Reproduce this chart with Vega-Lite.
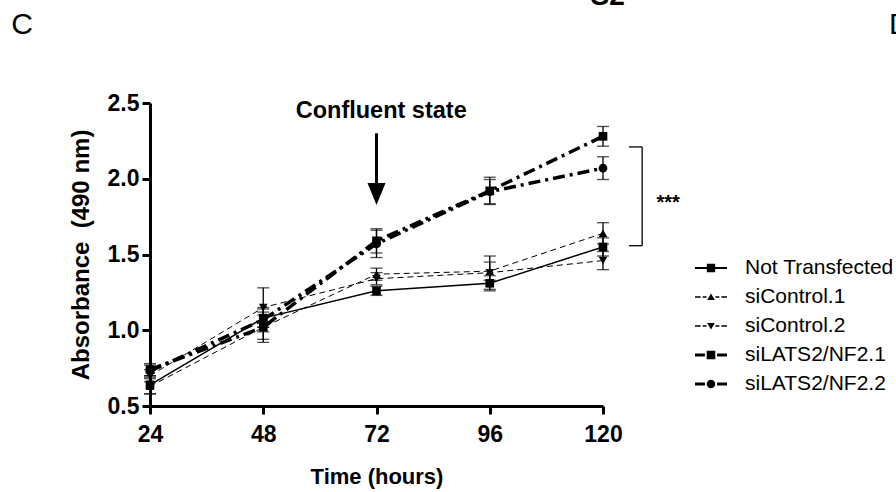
{
  "$schema": "https://vega.github.io/schema/vega-lite/v6.json",
  "autosize": "none",
  "width": 453,
  "height": 303,
  "padding": {"left": 150, "top": 103, "right": 293, "bottom": 86},
  "background": "white",
  "config": {
    "view": {"stroke": null},
    "axis": {"grid": false},
    "font": "Liberation Sans"
  },
  "data": {
    "values": [
      {"t": 24, "series": "Not Transfected", "v": 0.64, "err": 0.06},
      {"t": 48, "series": "Not Transfected", "v": 1.08, "err": 0.06},
      {"t": 72, "series": "Not Transfected", "v": 1.26, "err": 0.03},
      {"t": 96, "series": "Not Transfected", "v": 1.31, "err": 0.05},
      {"t": 120, "series": "Not Transfected", "v": 1.55, "err": 0.06},
      {"t": 24, "series": "siControl.1", "v": 0.63, "err": 0.05},
      {"t": 48, "series": "siControl.1", "v": 1.02, "err": 0.10},
      {"t": 72, "series": "siControl.1", "v": 1.37, "err": 0.04},
      {"t": 96, "series": "siControl.1", "v": 1.39, "err": 0.06},
      {"t": 120, "series": "siControl.1", "v": 1.64, "err": 0.07},
      {"t": 24, "series": "siControl.2", "v": 0.70, "err": 0.04},
      {"t": 48, "series": "siControl.2", "v": 1.15, "err": 0.13},
      {"t": 72, "series": "siControl.2", "v": 1.34, "err": 0.04},
      {"t": 96, "series": "siControl.2", "v": 1.38, "err": 0.11},
      {"t": 120, "series": "siControl.2", "v": 1.46, "err": 0.06},
      {"t": 24, "series": "siLATS2/NF2.1", "v": 0.74, "err": 0.04},
      {"t": 48, "series": "siLATS2/NF2.1", "v": 1.02, "err": 0.08},
      {"t": 72, "series": "siLATS2/NF2.1", "v": 1.59, "err": 0.08},
      {"t": 96, "series": "siLATS2/NF2.1", "v": 1.92, "err": 0.09},
      {"t": 120, "series": "siLATS2/NF2.1", "v": 2.28, "err": 0.065},
      {"t": 24, "series": "siLATS2/NF2.2", "v": 0.73, "err": 0.04},
      {"t": 48, "series": "siLATS2/NF2.2", "v": 1.07, "err": 0.08},
      {"t": 72, "series": "siLATS2/NF2.2", "v": 1.57, "err": 0.09},
      {"t": 96, "series": "siLATS2/NF2.2", "v": 1.915, "err": 0.08},
      {"t": 120, "series": "siLATS2/NF2.2", "v": 2.07, "err": 0.075}
    ]
  },
  "resolve": {"scale": {"shape": "independent"}},
  "layer": [
    {
      "transform": [{"filter": "datum.series === 'Not Transfected'"}],
      "mark": {"type": "line", "color": "black", "strokeWidth": 1.5},
      "encoding": {
        "x": {
          "field": "t", "type": "quantitative", "title": "Time (hours)",
          "scale": {"domain": [24, 120], "nice": false, "zero": false},
          "axis": {
            "title": "Time (hours)", "values": [24, 48, 72, 96, 120], "format": "d",
            "labelFont": "Liberation Sans", "labelFontWeight": "bold", "labelFontSize": 23, "labelColor": "black",
            "titleFont": "Liberation Sans", "titleFontWeight": "bold", "titleFontSize": 22, "titleColor": "black",
            "titlePadding": 20, "labelPadding": 9,
            "domainColor": "black", "domainWidth": 3, "tickColor": "black", "tickWidth": 3, "tickSize": 8,
            "labelFlush": false, "labelOverlap": false
          }
        },
        "y": {
          "field": "v", "type": "quantitative", "title": "Absorbance\u00a0 (490 nm)",
          "scale": {"domain": [0.5, 2.5], "nice": false, "zero": false},
          "axis": {
            "title": "Absorbance\u00a0 (490 nm)", "values": [0.5, 1, 1.5, 2, 2.5], "format": ".1f",
            "labelFont": "Liberation Sans", "labelFontWeight": "bold", "labelFontSize": 23, "labelColor": "black",
            "titleFont": "Liberation Sans", "titleFontWeight": "bold", "titleFontSize": 24, "titleColor": "black",
            "titlePadding": 14, "labelPadding": 3,
            "domainColor": "black", "domainWidth": 3, "tickColor": "black", "tickWidth": 3, "tickSize": 8,
            "labelFlush": false, "labelOverlap": false
          }
        }
      }
    },
    {
      "transform": [{"filter": "indexof(datum.series, 'siControl') === 0"}],
      "mark": {"type": "line", "color": "black", "strokeWidth": 1, "strokeDash": [6, 4]},
      "encoding": {
        "x": {"field": "t", "type": "quantitative", "title": "Time (hours)"},
        "y": {"field": "v", "type": "quantitative", "title": "Absorbance\u00a0 (490 nm)"},
        "detail": {"field": "series"}
      }
    },
    {
      "transform": [{"filter": "indexof(datum.series, 'siLATS') === 0"}],
      "mark": {"type": "line", "color": "black", "strokeWidth": 3.5, "strokeDash": [12, 5, 3, 5]},
      "encoding": {
        "x": {"field": "t", "type": "quantitative", "title": "Time (hours)"},
        "y": {"field": "v", "type": "quantitative", "title": "Absorbance\u00a0 (490 nm)"},
        "detail": {"field": "series"}
      }
    },
    {
      "mark": {"type": "errorbar", "ticks": {"size": 12, "color": "black", "thickness": 1.3}, "rule": {"color": "black", "strokeWidth": 1.3}},
      "encoding": {
        "x": {"field": "t", "type": "quantitative", "title": "Time (hours)"},
        "y": {"field": "v", "type": "quantitative", "title": "Absorbance\u00a0 (490 nm)"},
        "yError": {"field": "err"}
      }
    },
    {
      "mark": {"type": "point", "filled": true, "color": "black", "opacity": 1, "size": 75},
      "encoding": {
        "x": {"field": "t", "type": "quantitative", "title": "Time (hours)"},
        "y": {"field": "v", "type": "quantitative", "title": "Absorbance\u00a0 (490 nm)"},
        "shape": {
          "field": "series", "type": "nominal", "legend": null,
          "scale": {
            "domain": ["Not Transfected", "siControl.1", "siControl.2", "siLATS2/NF2.1", "siLATS2/NF2.2"],
            "range": ["square", "triangle-up", "triangle-down", "square", "circle"]
          }
        }
      }
    },
    {
      "transform": [{"filter": "false"}],
      "mark": {"type": "point", "filled": true, "color": "black", "opacity": 1, "size": 1024},
      "encoding": {
        "x": {"field": "t", "type": "quantitative", "title": "Time (hours)"},
        "y": {"field": "v", "type": "quantitative", "title": "Absorbance\u00a0 (490 nm)"},
        "shape": {
          "field": "series", "type": "nominal",
          "scale": {
            "domain": ["Not Transfected", "siControl.1", "siControl.2", "siLATS2/NF2.1", "siLATS2/NF2.2"],
            "range": [
              "M-1,-0.065H1V0.065H-1Z M-0.26,-0.26H0.26V0.26H-0.26Z",
              "M-1,-0.04H-0.65V0.04H-1Z M-0.52,-0.04H-0.28V0.04H-0.52Z M0,-0.22L0.24,0.18H-0.24Z M0.28,-0.04H0.52V0.04H0.28Z M0.65,-0.04H1V0.04H0.65Z",
              "M-1,-0.04H-0.65V0.04H-1Z M-0.52,-0.04H-0.28V0.04H-0.52Z M0,0.22L0.24,-0.18H-0.24Z M0.28,-0.04H0.52V0.04H0.28Z M0.65,-0.04H1V0.04H0.65Z",
              "M-1,-0.095H-0.38V0.095H-1Z M-0.27,-0.27H0.27V0.27H-0.27Z M0.38,-0.095H1V0.095H0.38Z",
              "M-1,-0.095H-0.38V0.095H-1Z M-0.27,0A0.27,0.27 0 1,1 0.27,0A0.27,0.27 0 1,1 -0.27,0Z M0.38,-0.095H1V0.095H0.38Z"
            ]
          },
          "legend": {
            "orient": "none", "legendX": 545, "legendY": 149, "title": null,
            "padding": 0, "rowPadding": 3, "labelOffset": 18,
            "labelFont": "Liberation Sans", "labelFontSize": 21, "labelColor": "black", "labelLimit": 0,
            "symbolSize": 1024, "symbolStrokeWidth": 0, "symbolFillColor": "black", "symbolOpacity": 1
          }
        }
      }
    },
    {
      "data": {"values": [{}]},
      "mark": {"type": "text", "text": "Confluent state", "font": "Liberation Sans", "fontWeight": "bold", "fontSize": 23.5, "align": "center", "baseline": "alphabetic", "color": "black"},
      "encoding": {"x": {"datum": 73}, "y": {"datum": 2.401}}
    },
    {
      "data": {"values": [{}]},
      "mark": {"type": "rule", "color": "black", "strokeWidth": 3},
      "encoding": {"x": {"datum": 72}, "y": {"datum": 2.30}, "y2": {"datum": 1.95}}
    },
    {
      "data": {"values": [{}]},
      "mark": {"type": "point", "filled": true, "color": "black", "opacity": 1, "size": 484, "shape": "M-0.82,-1L0.82,-1L0,1Z"},
      "encoding": {"x": {"datum": 72}, "y": {"datum": 1.9}}
    },
    {
      "data": {"values": [{}]},
      "mark": {"type": "rule", "color": "black", "strokeWidth": 1.3},
      "encoding": {"x": {"datum": 128.3}, "y": {"datum": 2.21}, "y2": {"datum": 1.558}}
    },
    {
      "data": {"values": [{}]},
      "mark": {"type": "rule", "color": "black", "strokeWidth": 1.3},
      "encoding": {"x": {"datum": 125.5}, "x2": {"datum": 128.3}, "y": {"datum": 2.21}}
    },
    {
      "data": {"values": [{}]},
      "mark": {"type": "rule", "color": "black", "strokeWidth": 1.3},
      "encoding": {"x": {"datum": 125.5}, "x2": {"datum": 128.3}, "y": {"datum": 1.558}}
    },
    {
      "data": {"values": [{}]},
      "mark": {"type": "text", "text": "***", "font": "Liberation Sans", "fontWeight": "bold", "fontSize": 20, "align": "center", "baseline": "alphabetic", "color": "black"},
      "encoding": {"x": {"datum": 133.8}, "y": {"datum": 1.8}}
    },
    {
      "data": {"values": [{}]},
      "mark": {"type": "text", "text": "C", "font": "Liberation Sans", "fontSize": 30, "align": "center", "baseline": "alphabetic", "color": "black"},
      "encoding": {"x": {"datum": -3.1}, "y": {"datum": 2.955}}
    },
    {
      "data": {"values": [{}]},
      "mark": {"type": "text", "text": "D", "font": "Liberation Sans", "fontSize": 30, "align": "left", "baseline": "alphabetic", "color": "black"},
      "encoding": {"x": {"datum": 180.6}, "y": {"datum": 2.955}}
    },
    {
      "data": {"values": [{}]},
      "mark": {"type": "text", "text": "S2", "font": "Liberation Sans", "fontWeight": "bold", "fontSize": 28, "align": "center", "baseline": "alphabetic", "color": "black"},
      "encoding": {"x": {"datum": 121.0}, "y": {"datum": 3.146}}
    }
  ]
}
